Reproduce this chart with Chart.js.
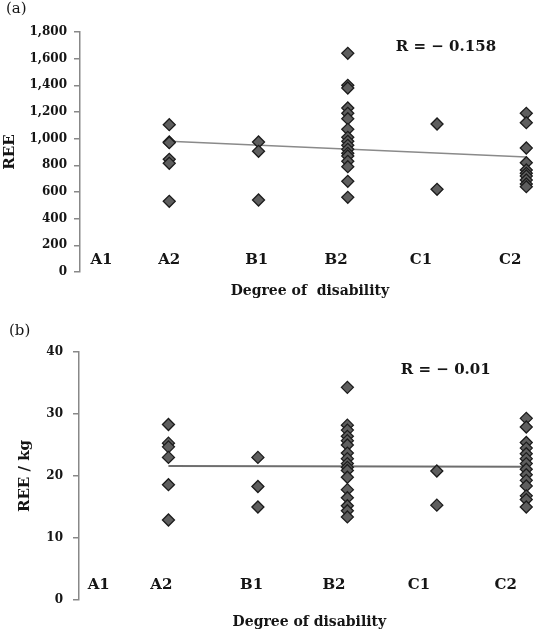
<!DOCTYPE html>
<html>
<head>
<meta charset="utf-8">
<script src="https://cdn.jsdelivr.net/npm/chart.js@4/dist/chart.umd.min.js"></script>
<style>
  html, body { margin: 0; padding: 0; background: #fff; }
  .panel { position: absolute; left: 0; width: 547px; }
  #panelA { top: 0; height: 300px; }
  #panelB { top: 300px; height: 331px; }
</style>
</head>
<body>
<div class="panel" id="panelA"><canvas id="chartA" width="547" height="300"></canvas></div>
<div class="panel" id="panelB"><canvas id="chartB" width="547" height="331"></canvas></div>
<script>
// categories (A1 has no subjects)
const categories = ['A1', 'A2', 'B1', 'B2', 'C1', 'C2'];

// (a) REE per subject, grouped by degree of disability
const reeA2 = [1105, 975, 970, 845, 815, 530];
const reeB1 = [975, 905, 540];
const reeB2 = [1640, 1400, 1380, 1230, 1190, 1150, 1070, 1010, 980, 950, 920, 890, 870, 830, 790, 680, 560];
const reeC1 = [1110, 620];
const reeC2 = [1190, 1120, 930, 820, 765, 740, 720, 690, 660, 640];
const reeTrend = [980, 862];   // regression line at A2 and C2

// (b) REE / kg
const perKgA2 = [28.3, 25.3, 24.7, 23.0, 18.6, 12.9];
const perKgB1 = [23.0, 18.3, 15.0];
const perKgB2 = [34.3, 28.2, 27.4, 26.4, 25.7, 25.0, 23.7, 22.8, 22.0, 21.4, 20.9, 19.8, 17.8, 16.5, 15.2, 14.4, 13.4];
const perKgC1 = [20.8, 15.3];
const perKgC2 = [29.3, 27.9, 25.4, 24.5, 23.6, 22.8, 22.0, 21.1, 20.2, 19.3, 18.4, 16.8, 16.2, 15.0];
const perKgTrend = [21.6, 21.5];

const SERIF = "'DejaVu Serif', serif";
const INK = '#151515';

function toPoints(groups) {
  const pts = [];
  groups.forEach(([cat, values]) => {
    const x = categories.indexOf(cat);
    values.forEach(v => pts.push({ x: x, y: v }));
  });
  return pts;
}

// draws category names inside the plot, the panel letter and the R value
const annotations = {
  id: 'annotations',
  afterDatasetsDraw(chart, args, o) {
    const { ctx, chartArea, scales } = chart;
    ctx.save();
    ctx.fillStyle = INK;
    ctx.textBaseline = 'middle';
    ctx.textAlign = 'center';
    ctx.font = 'bold 15px ' + SERIF;
    categories.forEach((c, i) => {
      ctx.fillText(c, scales.x.getPixelForValue(o.labelPos[i]), chartArea.bottom - o.labelLift);
    });
    ctx.fillText(o.rText, scales.x.getPixelForValue(o.rAt[0]), scales.y.getPixelForValue(o.rAt[1]));
    ctx.textAlign = 'left';
    ctx.font = '15px ' + SERIF;
    ctx.fillText(o.panel, o.panelAt[0], o.panelAt[1]);
    ctx.restore();
  }
};

function makeChart(canvas, cfg) {
  return new Chart(canvas, {
    type: 'scatter',
    data: {
      datasets: [
        {
          data: cfg.points,
          pointStyle: 'rectRot',
          pointRadius: 6,
          pointBackgroundColor: '#5e5e5e',
          pointBorderColor: '#1c1c1c',
          pointBorderWidth: 1.3,
          order: 1
        },
        {
          type: 'line',
          data: [{ x: 1, y: cfg.trend[0] }, { x: 5, y: cfg.trend[1] }],
          borderColor: cfg.trendColor,
          borderWidth: cfg.trendWidth,
          pointRadius: 0,
          fill: false,
          order: 2
        }
      ]
    },
    options: {
      responsive: false,
      animation: false,
      layout: { padding: { top: cfg.padTop, right: 5, left: 0, bottom: 0 } },
      plugins: {
        legend: { display: false },
        tooltip: { enabled: false },
        annotations: cfg.notes
      },
      scales: {
        x: {
          type: 'linear',
          min: 0,
          max: 5.15,
          ticks: { display: false },
          grid: { display: false },
          border: { display: false },
          title: {
            display: true,
            text: cfg.xTitle,
            color: INK,
            font: { family: SERIF, size: 14, weight: 'bold' },
            padding: { top: 0, bottom: cfg.xTitlePad }
          },
          afterFit: s => { s.height = cfg.xHeight; }
        },
        y: {
          min: 0,
          max: cfg.yMax,
          ticks: {
            stepSize: cfg.yStep,
            color: INK,
            padding: cfg.tickPad,
            font: { family: SERIF, size: 12, weight: 'bold' }
          },
          grid: {
            drawOnChartArea: false,
            drawTicks: true,
            tickLength: 6,
            color: '#888',
            lineWidth: 1.5
          },
          border: { color: '#888', width: 1.5 },
          title: {
            display: true,
            text: cfg.yTitle,
            color: INK,
            font: { family: SERIF, size: 15, weight: 'bold' },
            padding: { top: cfg.yTitlePad, bottom: 0 }
          },
          afterFit: s => { s.width = cfg.yWidth; }
        }
      }
    },
    plugins: [annotations]
  });
}

makeChart(document.getElementById('chartA'), {
  points: toPoints([['A2', reeA2], ['B1', reeB1], ['B2', reeB2], ['C1', reeC1], ['C2', reeC2]]),
  trend: reeTrend,
  trendColor: '#8a8a8a',
  trendWidth: 1.5,
  padTop: 32,
  yMax: 1800,
  yStep: 200,
  tickPad: 7,
  yWidth: 80,
  yTitle: 'REE',
  yTitlePad: 1,
  xTitle: 'Degree of  disability',
  xTitlePad: 0,
  xHeight: 28,
  notes: {
    labelPos: [0.24, 1, 1.98, 2.87, 3.82, 4.82],
    labelLift: 12,
    rText: 'R = \u2212 0.158',
    rAt: [4.1, 1685],
    panel: '(a)',
    panelAt: [6, 9]
  }
});

makeChart(document.getElementById('chartB'), {
  points: toPoints([['A2', perKgA2], ['B1', perKgB1], ['B2', perKgB2], ['C1', perKgC1], ['C2', perKgC2]]),
  trend: perKgTrend,
  trendColor: '#6e6e6e',
  trendWidth: 2,
  padTop: 52,
  yMax: 40,
  yStep: 10,
  tickPad: 10,
  yWidth: 79,
  yTitle: 'REE / kg',
  yTitlePad: 16,
  xTitle: 'Degree of disability',
  xTitlePad: 0,
  xHeight: 31,
  notes: {
    labelPos: [0.22, 0.92, 1.93, 2.85, 3.8, 4.77],
    labelLift: 15,
    rText: 'R = \u2212 0.01',
    rAt: [4.1, 37],
    panel: '(b)',
    panelAt: [9, 31]
  }
});
</script>
</body>
</html>
